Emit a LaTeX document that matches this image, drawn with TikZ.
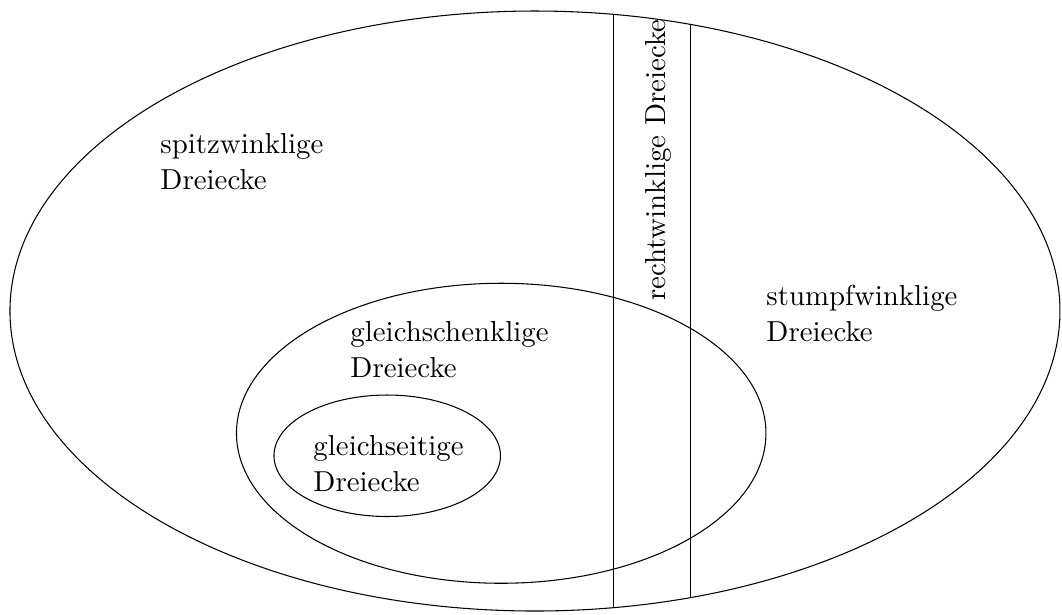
\documentclass[tikz,border=0pt]{standalone}
\usepackage{tikz}
\usetikzlibrary{positioning}

\tikzset{
  setname/.style={align=left, anchor=north west, inner sep=0pt,
                  font=\fontsize{10.95pt}{13.6pt}\selectfont},
}

\begin{document}
\begin{tikzpicture}
    \useasboundingbox (-7.133,-4.04) rectangle (7.027,4.147);

    % all triangles
    \draw (0,0) ellipse (7cm and 4cm);
    % right-angled strip
    \begin{scope}
      \clip (0,0) ellipse (7cm and 4cm);
      \draw (1.05,-4.2) -- (1.05,4.2);
      \draw (2.07,-4.2) -- (2.07,4.2);
    \end{scope}
    % isosceles and equilateral
    \draw (-0.45,-1.63) ellipse (3.53cm and 2cm);
    \draw (-1.97,-1.93) ellipse (1.51cm and 0.81cm);

    % names
    \node[setname] (spitz)  at (-5.0,2.373)   {spitzwinklige\\Dreiecke};
    \node[setname] (stumpf) at (3.08,0.347)   {stumpfwinklige\\Dreiecke};
    \node[setname] (schenk) at (-2.467,-0.133){gleichschenklige\\Dreiecke};
    \node[setname] (seit)   at (-2.96,-1.653) {gleichseitige\\Dreiecke};
    \node[setname, anchor=base, rotate=90] (recht) at (1.74,2.01)
          {rechtwinklige Dreiecke};
  \end{tikzpicture}
\end{document}
